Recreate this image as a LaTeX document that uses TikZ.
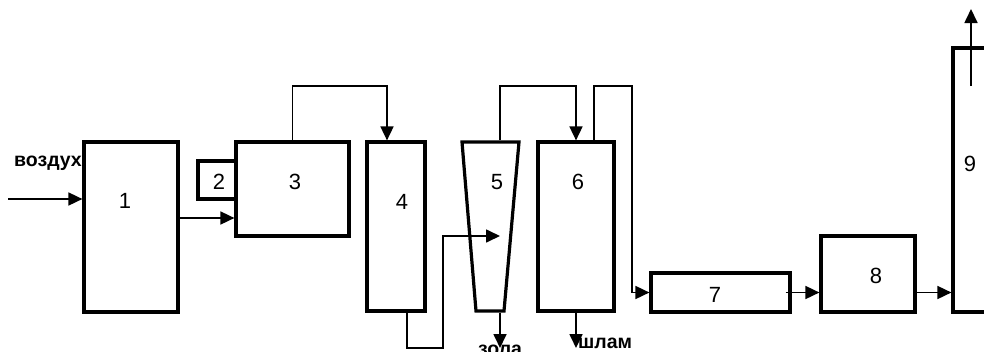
\documentclass[tikz,border=0pt]{standalone}
\usepackage{fontspec}
\setmainfont{Liberation Sans}
\usetikzlibrary{arrows.meta}
\begin{document}
\begin{tikzpicture}[x=1pt,y=-1pt,
  unit/.style={draw,line width=3.2pt,inner sep=0pt,line join=miter},
  flow/.style={line width=1.7pt,-{Triangle[length=14pt,width=13pt]}},
  num/.style={font=\fontsize{22}{24}\selectfont,inner sep=0pt},
  tag/.style={font=\bfseries\fontsize{19.5}{22}\selectfont,inner sep=0pt}]
\useasboundingbox (0,0) rectangle (984,351);

% helper rows and columns
\coordinate (k86) at (0,86);
\coordinate (r218) at (0,218);
\coordinate (x387) at (387,0);
\coordinate (x407) at (407,0);
\coordinate (x594) at (594,0);
\coordinate (x632) at (632,0);
\coordinate (x971) at (971,0);

% apparatus
\node[unit,minimum width=94pt,minimum height=170pt] (b1) at (131,227) {};
\node[unit,minimum width=38pt,minimum height=38pt] (b2) at (217,180) {};
\node[unit,minimum width=113pt,minimum height=94pt] (b3) at (292.5,189) {};
\node[unit,minimum width=58pt,minimum height=169pt] (b4) at (396,226.5) {};
\coordinate (t5a) at (462,142);
\coordinate (t5b) at (519,142);
\coordinate (t5c) at (504,311);
\coordinate (t5d) at (476,311);
\draw[unit] (t5a) -- (t5b) -- (t5c) -- (t5d) -- cycle;
\node[unit,minimum width=76pt,minimum height=169pt] (b6) at (576,226.5) {};
\node[unit,minimum width=139pt,minimum height=39pt] (b7) at (720.5,292.5) {};
\node[unit,minimum width=94pt,minimum height=76pt] (b8) at (868,274) {};
\node[unit,minimum width=60pt,minimum height=264pt] (b9) at (983,180) {};

% numbers
\node[num] (l1) at (125,201) {1};
\node[num] (l2) at (219,182) {2};
\node[num] (l3) at (295,182) {3};
\node[num] (l4) at (402,202) {4};
\node[num] (l5) at (497,182) {5};
\node[num] (l6) at (578,182) {6};
\node[num] (l7) at (715,295) {7};
\node[num] (l8) at (876,276) {8};
\node[num] (l9) at (970,164) {9};

% stream texts
\node[tag,anchor=base east] (air) at (82,166) {воздух};
\node[tag,anchor=base west] (ash) at (478,355) {зола};
\node[tag,anchor=base west] (slime) at (578,348) {шлам};

% streams
\coordinate (airin) at (8,199);
\draw[flow] (airin) -- (b1.west |- airin);
\draw[flow] (b1.east |- r218) -- (b3.west |- r218);
\draw[flow] (b3.north) |- (x387 |- k86) -- (b4.north -| x387);
\coordinate (in5) at (500,236);
\draw[flow] (b4.south -| x407) |- (443,348) |- (in5);
\coordinate (o5) at (500,140.4);
\draw[flow] (o5) |- (b6.north |- k86) -- (b6.north);
\draw[flow] (b6.north -| x594) |- (x632 |- k86) |- (b7.west);
\coordinate (o5b) at (500,312.6);
\coordinate (ashout) at (500,348);
\draw[flow] (o5b) -- (ashout);
\coordinate (slout) at (576,348);
\draw[flow] (b6.south) -- (slout);
\draw[flow] ([xshift=-6pt]b7.east) -- (b8.west |- b7.east);
\draw[flow] (b8.east |- b7.east) -- (b9.west |- b7.east);
\coordinate (stack) at (971,9);
\draw[flow] (x971 |- k86) -- (stack);
\end{tikzpicture}
\end{document}
